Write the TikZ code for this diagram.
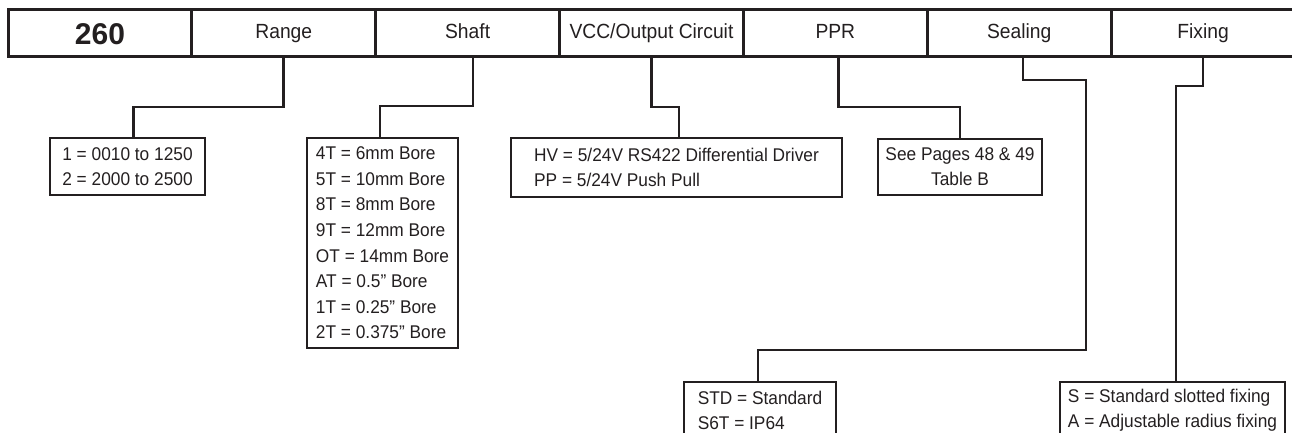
\documentclass[tikz,border=0pt]{standalone}
\usepackage{fontspec}
\setmainfont{Liberation Sans}[FakeStretch=0.94]
\newfontfamily\numfont{Liberation Sans}
\usepackage{tikz}
\usetikzlibrary{positioning}
\definecolor{ink}{HTML}{231F20}
\tikzset{
  headcell/.style = {draw=ink,line width=3pt,outer sep=0pt,inner sep=0pt,minimum width=183.85pt,minimum height=47pt,text height=14.7pt,text depth=4pt,text=ink,font=\fontsize{20.5}{22}\selectfont},
  optbox/.style   = {draw=ink,line width=2.6pt,outer sep=0pt,inner sep=0pt,anchor=north west,text=ink,font=\fontsize{18.4}{25}\selectfont},
  link/.style     = {draw=ink,line width=2.6pt}
}

\begin{document}
\begin{tikzpicture}[x=1pt,y=1pt]
  \useasboundingbox (0,0) rectangle (1292,-433);
  \node[headcell,anchor=north west,text height=21.5pt,text depth=-2pt,font=\numfont\bfseries\fontsize{30}{31}\selectfont] (hNum) at (8,-10) {260};
  \node[headcell,right=0pt of hNum]   (hRange) {Range};
  \node[headcell,right=0pt of hRange] (hShaft) {Shaft};
  \node[headcell,right=0pt of hShaft] (hVcc)   {VCC/Output Circuit};
  \node[headcell,right=0pt of hVcc]   (hPpr)   {PPR};
  \node[headcell,right=0pt of hPpr]   (hSeal)  {Sealing};
  \node[headcell,right=0pt of hSeal]  (hFix)   {Fixing};

  \node[optbox,align=right,minimum width=155pt,minimum height=57pt] (oRange) at (50,-138)
    {1 = 0010 to 1250\\2 = 2000 to 2500};
  \node[optbox,align=left,minimum width=151pt,minimum height=210pt,font=\fontsize{18.4}{25.6}\selectfont] (oShaft) at (307,-138)
    {4T = 6mm Bore\\5T = 10mm Bore\\8T = 8mm Bore\\9T = 12mm Bore\\OT = 14mm Bore\\AT = 0.5” Bore\\1T = 0.25” Bore\\2T = 0.375” Bore};
  \node[optbox,align=left,minimum width=331pt,minimum height=59pt] (oVcc) at (511,-138)
    {HV = 5/24V RS422 Differential Driver\\PP = 5/24V Push Pull};
  \node[optbox,align=center,minimum width=164pt,minimum height=56pt] (oPpr) at (878,-139)
    {See Pages 48 \& 49\\Table B};
  \node[optbox,align=left,minimum width=152pt,minimum height=56pt] (oSeal) at (684,-382)
    {STD = Standard\\S6T = IP64};
  \node[optbox,align=left,minimum width=225pt,minimum height=56pt] (oFix) at (1060,-382)
    {S = Standard slotted fixing\\A = Adjustable radius fixing};

  \draw[link] (hRange.south) -- ++(0,-50) -| ([xshift=6]oRange.north);
  \draw[link] ([xshift=5.5]hShaft.south) -- ++(0,-49) -| ([xshift=-2.5]oShaft.north);
  \draw[link] (hVcc.south) -- ++(0,-50) -| ([xshift=2.5]oVcc.north);
  \draw[link] ([xshift=3]hPpr.south) -- ++(0,-50) -| (oPpr.north);
  \draw[link] ([xshift=4]hSeal.south) -- ++(0,-23) -| ++(63,-270) -| ([xshift=-2]oSeal.north);
  \draw[link] (hFix.south) -- ++(0,-29) -| ([xshift=3.5]oFix.north);
\end{tikzpicture}
\end{document}
